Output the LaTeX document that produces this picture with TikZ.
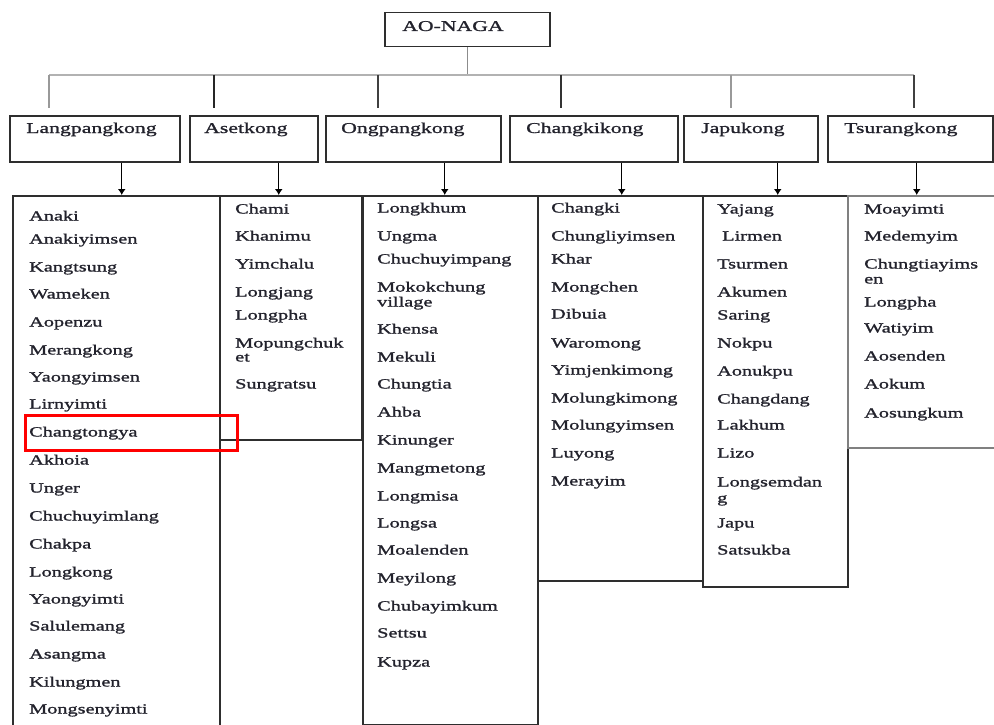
\documentclass[tikz,border=0pt]{standalone}
\usepackage{fontspec}
\setmainfont{Liberation Serif}[FakeStretch=1.45,FakeBold=1.2]
\usetikzlibrary{arrows.meta}
\definecolor{ink}{HTML}{22222C}
\definecolor{edge}{HTML}{2E2E2E}
\tikzset{
  hbox/.style={draw=edge,line width=1.5pt,rectangle,inner sep=0pt,anchor=north west},
  lbox/.style={draw=edge,line width=1.5pt,rectangle,inner sep=0pt,anchor=north west},
  htext/.style={anchor=base west,inner sep=0pt,text=ink,font=\fontsize{15}{17}\selectfont},
  item/.style={anchor=base west,inner sep=0pt,text=ink,font=\fontsize{14}{16}\selectfont},
  bus/.style={draw=black!30,line width=1.5pt},
  drop/.style={line width=1.5pt},
  arr/.style={draw=black,line width=1.2pt,-{Latex[length=6pt,width=8pt]}},
  redbox/.style={draw=red,line width=2.8pt}
}
\begin{document}
\begin{tikzpicture}[x=1pt,y=-1pt]
\useasboundingbox (0,0) rectangle (994,725);
\begin{scope}
\clip (0,0) rectangle (994,725);
% root
\node[hbox,minimum width=165,minimum height=34] (ao) at (384,12) {};
\node[htext] (aot) at (402,31) {AO-NAGA};
% second level boxes
\node[hbox,minimum width=170,minimum height=46] (b1) at (9,115) {};
\node[hbox,minimum width=128,minimum height=46] (b2) at (189,115) {};
\node[hbox,minimum width=175,minimum height=46] (b3) at (325,115) {};
\node[hbox,minimum width=168,minimum height=46] (b4) at (509,115) {};
\node[hbox,minimum width=134,minimum height=46] (b5) at (683,115) {};
\node[hbox,minimum width=165,minimum height=46] (b6) at (827,115) {};
\node[htext] (t1) at (26,133) {Langpangkong};
\node[htext] (t2) at (204,133) {Asetkong};
\node[htext] (t3) at (341,133) {Ongpangkong};
\node[htext] (t4) at (526,133) {Changkikong};
\node[htext] (t5) at (701,133) {Japukong};
\node[htext] (t6) at (844,133) {Tsurangkong};
% bus
\coordinate (busl) at (49,75);
\coordinate (busr) at (914,75);
\draw[drop,draw=black!45] (ao.south) -- (ao.south |- busl);
\draw[bus] (busl) -- (busr);
\coordinate (d1) at (49,75);  \coordinate (e1) at (49,108);
\coordinate (d2) at (214,75); \coordinate (e2) at (214,108);
\coordinate (d3) at (378,75); \coordinate (e3) at (378,108);
\coordinate (d4) at (561,75); \coordinate (e4) at (561,108);
\coordinate (d5) at (731,75); \coordinate (e5) at (731,108);
\coordinate (d6) at (914,75); \coordinate (e6) at (914,108);
\draw[drop,draw=black!40] (d1) -- (e1);
\draw[drop,draw=black!85] (d2) -- (e2);
\draw[drop,draw=black!75] (d3) -- (e3);
\draw[drop,draw=black!80] (d4) -- (e4);
\draw[drop,draw=black!40] (d5) -- (e5);
\draw[drop,draw=black!75] (d6) -- (e6);
% list boxes
\node[lbox,minimum width=207,minimum height=545] (l1) at (12,195) {};
\node[lbox,minimum width=142,minimum height=244] (l2) at (219,195) {};
\node[lbox,minimum width=175,minimum height=529] (l3) at (362,195) {};
\node[lbox,minimum width=165,minimum height=385] (l4) at (537,195) {};
\node[lbox,minimum width=145,minimum height=391] (l5) at (702,195) {};
\node[lbox,draw=black!50,minimum width=160,minimum height=252] (l6) at (847,195) {};
% arrows
\draw[arr] ([xshift=27pt]b1.south) -- ([xshift=27pt]b1.south |- l1.north);
\draw[arr] ([xshift=25pt]b2.south) -- ([xshift=25pt]b2.south |- l2.north);
\draw[arr] ([xshift=31.5pt]b3.south) -- ([xshift=31.5pt]b3.south |- l3.north);
\draw[arr] ([xshift=28pt]b4.south) -- ([xshift=28pt]b4.south |- l4.north);
\draw[arr] ([xshift=27pt]b5.south) -- ([xshift=27pt]b5.south |- l5.north);
\draw[arr] ([xshift=6.5pt]b6.south) -- ([xshift=6.5pt]b6.south |- l6.north);
% items
\foreach \t/\y [count=\i] in {Anaki/216,Anakiyimsen/239,Kangtsung/267,Wameken/294,Aopenzu/322,Merangkong/350,Yaongyimsen/377,Lirnyimti/404,Changtongya/432,Akhoia/460,Unger/488,Chuchuyimlang/516,Chakpa/544,Longkong/572,Yaongyimti/599,Salulemang/626,Asangma/654,Kilungmen/682,Mongsenyimti/709}
  \node[item] (p1-\i) at (29,\y+4.5) {\t};
\foreach \t/\y [count=\i] in {Chami/209,Khanimu/236,Yimchalu/264,Longjang/292,Longpha/315,Mopungchuk/343,et/357,Sungratsu/384}
  \node[item] (p2-\i) at (235,\y+4.5) {\t};
\foreach \t/\y [count=\i] in {Longkhum/208,Ungma/236,Chuchuyimpang/259,Mokokchung/287,village/302,Khensa/329,Mekuli/357,Chungtia/384,Ahba/412,Kinunger/440,Mangmetong/468,Longmisa/496,Longsa/523,Moalenden/550,Meyilong/578,Chubayimkum/606,Settsu/633,Kupza/662}
  \node[item] (p3-\i) at (377,\y+4.5) {\t};
\foreach \t/\y [count=\i] in {Changki/208,Chungliyimsen/236,Khar/259,Mongchen/287,Dibuia/314,Waromong/343,Yimjenkimong/370,Molungkimong/398,Molungyimsen/425,Luyong/453,Merayim/481}
  \node[item] (p4-\i) at (551,\y+4.5) {\t};
\foreach \t/\y/\x [count=\i] in {Yajang/209/717,Lirmen/236/722,Tsurmen/264/717,Akumen/292/717,Saring/315/717,Nokpu/343/717,Aonukpu/371/717,Changdang/399/717,Lakhum/425/717,Lizo/453/717,Longsemdan/482/717,g/498/717,Japu/523/717,Satsukba/550/717}
  \node[item] (p5-\i) at (\x,\y+4.5) {\t};
\foreach \t/\y [count=\i] in {Moayimti/209,Medemyim/236,Chungtiayims/264,en/279,Longpha/302,Watiyim/328,Aosenden/356,Aokum/384,Aosungkum/413}
  \node[item] (p6-\i) at (864,\y+4.5) {\t};
% highlight
\node[redbox,rectangle,inner sep=0pt,minimum width=212,minimum height=35,anchor=north west] (hl) at (24,414) {};
\end{scope}
\end{tikzpicture}
\end{document}
